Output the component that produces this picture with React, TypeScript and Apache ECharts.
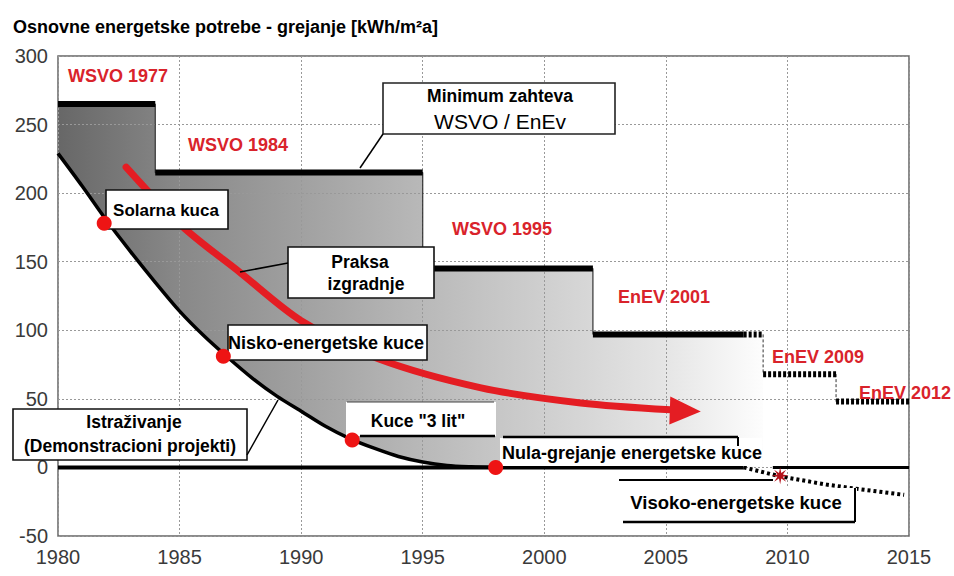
import React, { useEffect, useRef } from "react";
import * as echarts from "echarts";

const FONT = '"Liberation Sans", Arial, sans-serif';

// Axis ranges / ticks
const xRange = [1980, 2015];
const yRange = [-50, 300];

// WSVO / EnEV limits: [from, to, value]
const limitSolid = [
  [1980, 1984, 265],
  [1984, 1995, 215],
  [1995, 2002, 145],
  [2002, 2008.2, 97],
];
const limitDotted = [
  [2008.2, 2009, 97],
  [2009, 2012, 68],
  [2012, 2015, 48],
];
// dashed drops: [year, from, to]
const limitDrops = [
  [2009, 97, 68],
  [2012, 68, 48],
];
// outline of the limit staircase (upper edge of the shaded band)
const limitOutline = [
  [1980, 265], [1984, 265], [1984, 215], [1995, 215], [1995, 145],
  [2002, 145], [2002, 97], [2009, 97],
];
// Research / demonstration projects curve
const researchCurve = [
  [1980, 229], [1981, 205], [1982, 180], [1983, 157], [1984, 135],
  [1985, 114], [1986, 96], [1987, 80], [1988, 65], [1989, 52],
  [1990, 41], [1991, 30], [1992, 21], [1993, 14], [1994, 8],
  [1995, 4], [1996, 1.5], [1997, 0.5], [1998, 0],
];
// Building practice trend (red arrow)
const practiceTrend = [
  [1982.8, 219], [1985.1, 176], [1987.5, 142], [1990, 107],
  [1993.2, 79], [1997.4, 58], [2001.5, 47], [2005.2, 42],
];
const practiceArrowHead = [[2005.8, 41.2]];
// Milestones (red dots)
const milestones = [[1981.9, 178], [1986.8, 81], [1992.1, 20], [1998, 0]];
// Zero line and plus-energy houses
const zeroLineLeft = [[1980, 0], [2008.2, 0]];
const zeroLineRight = [[2009.4, 0], [2015, 0]];
const plusEnergy = [[2008.2, 0], [2009.7, -6.5], [2011.6, -12.5], [2012.8, -15.5], [2014.8, -20]];
const plusMarker = [[2009.7, -6]];

const regulationLabels = ["WSVO 1977", "WSVO 1984", "WSVO 1995", "EnEV 2001", "EnEV 2009", "EnEV 2012"];

const STAR =
  "path://M20 10 L13.23 11.34 L17.07 17.07 L11.34 13.23 L10 20 L8.66 13.23 L2.93 17.07 L6.77 11.34 L0 10 L6.77 8.66 L2.93 2.93 L8.66 6.77 L10 0 L11.34 6.77 L17.07 2.93 L13.23 8.66 Z";

const RED = "#e41d23";
const LABEL_RED = "#d9232b";

function txt(text: string, x: number, y: number, font: string, align = "center", fill = "#000") {
  return {
    type: "text",
    z: 12,
    silent: true,
    style: { text, x, y, font, align, verticalAlign: "middle", fill },
  };
}
function rect(x: number, y: number, w: number, h: number, stroke: string | null) {
  return {
    type: "rect",
    z: 10,
    silent: true,
    shape: { x, y, width: w, height: h },
    style: stroke ? { fill: "#fff", stroke, lineWidth: 1.6 } : { fill: "#fff" },
  };
}
function seg(x1: number, y1: number, x2: number, y2: number, w = 1.5, color = "#000") {
  return {
    type: "line",
    z: 11,
    silent: true,
    shape: { x1, y1, x2, y2 },
    style: { stroke: color, lineWidth: w },
  };
}

export default function App() {
  const ref = useRef<HTMLDivElement>(null);

  useEffect(() => {
    if (!ref.current) return;
    const chart = echarts.init(ref.current, undefined, { renderer: "svg" });

    const B = `bold 17.5px ${FONT}`;
    const B18 = `bold 18px ${FONT}`;
    const RB = `bold 18px ${FONT}`;

    const series: any[] = [];

    // shaded band
    series.push({
      type: "custom",
      z: 1,
      silent: true,
      clip: true,
      data: [[1980, 0]],
      encode: { x: 0, y: 1 },
      renderItem: (_params: any, api: any) => {
        const pts = [...limitOutline, [2009, 0], ...researchCurve.slice().reverse()].map((p) =>
          api.coord(p)
        );
        return {
          type: "polygon",
          shape: { points: pts },
          style: {
            fill: new echarts.graphic.LinearGradient(0, 0, 1, 0, [
              { offset: 0, color: "#676767" },
              { offset: 0.17, color: "#888888" },
              { offset: 0.34, color: "#a0a0a0" },
              { offset: 0.52, color: "#b9b9b9" },
              { offset: 0.69, color: "#cfcfcf" },
              { offset: 0.86, color: "#e5e5e5" },
              { offset: 1, color: "#fdfdfd" },
            ]),
          },
        };
      },
    });

    // thin outline of staircase (vertical edges)
    series.push({
      type: "line",
      data: limitOutline.slice(0, -1),
      symbol: "none",
      lineStyle: { color: "#333", width: 1.2 },
      z: 3,
    });

    limitSolid.forEach(([a, b, v]) =>
      series.push({
        type: "line",
        data: [[a, v], [b, v]],
        symbol: "none",
        lineStyle: { color: "#000", width: 6 },
        z: 4,
      })
    );
    limitDotted.forEach(([a, b, v]) =>
      series.push({
        type: "line",
        data: [[a, v], [b, v]],
        symbol: "none",
        lineStyle: { color: "#000", width: 6, type: [3, 2] },
        z: 4,
      })
    );
    limitDrops.forEach(([x, a, b]) =>
      series.push({
        type: "line",
        data: [[x, a], [x, b]],
        symbol: "none",
        lineStyle: { color: "#333", width: 1, type: [3, 2] },
        z: 3,
      })
    );

    // zero line
    series.push({
      type: "line",
      data: zeroLineLeft,
      symbol: "none",
      lineStyle: { color: "#000", width: 4 },
      z: 4,
    });
    series.push({
      type: "line",
      data: zeroLineRight,
      symbol: "none",
      lineStyle: { color: "#000", width: 3 },
      z: 4,
    });
    series.push({
      type: "line",
      data: plusEnergy,
      symbol: "none",
      lineStyle: { color: "#000", width: 4, type: [3, 3] },
      z: 4,
    });

    // research curve
    series.push({
      type: "line",
      data: researchCurve,
      symbol: "none",
      smooth: 0.3,
      lineStyle: { color: "#000", width: 3.5 },
      z: 4,
    });

    // practice trend
    series.push({
      type: "line",
      data: practiceTrend,
      symbol: "none",
      smooth: 0.3,
      lineStyle: { color: RED, width: 7, cap: "round" },
      z: 5,
    });
    series.push({
      type: "scatter",
      data: practiceArrowHead,
      symbol: "triangle",
      symbolSize: [28, 31],
      symbolRotate: -92,
      itemStyle: { color: RED, opacity: 1 },
      z: 5,
    });

    // milestones
    series.push({
      type: "scatter",
      data: milestones,
      symbolSize: 15,
      itemStyle: { color: "#ee1414", opacity: 1 },
      z: 20,
    });
    series.push({
      type: "scatter",
      data: plusMarker,
      symbol: STAR,
      symbolSize: 17,
      itemStyle: { color: "#b5121b", opacity: 1 },
      z: 20,
    });

    const graphics: any[] = [
      txt("Osnovne energetske potrebe - grejanje [kWh/m²a]", 13, 27, `bold 18px ${FONT}`, "left"),
      // regulation labels
      txt(regulationLabels[0], 68, 76, RB, "left", LABEL_RED),
      txt(regulationLabels[1], 188, 145, RB, "left", LABEL_RED),
      txt(regulationLabels[2], 452, 229, RB, "left", LABEL_RED),
      txt(regulationLabels[3], 618, 297, RB, "left", LABEL_RED),
      txt(regulationLabels[4], 772, 357, RB, "left", LABEL_RED),
      txt(regulationLabels[5], 859, 393, RB, "left", LABEL_RED),
      // Minimum box
      seg(383, 134, 360, 168),
      rect(383, 83, 232, 51, "#222"),
      txt("Minimum zahteva", 500, 96, B),
      txt("WSVO / EnEv", 500, 121, `21px ${FONT}`),
      // Solarna
      rect(106, 190, 122, 39, "#111"),
      txt("Solarna kuca", 166, 210, `bold 17px ${FONT}`),
      // Praksa
      seg(288, 263, 240, 272),
      rect(288, 247, 146, 51, "#111"),
      txt("Praksa", 360, 262, B),
      txt("izgradnje", 366, 284, B),
      // Nisko
      rect(228, 325, 199, 35, "#111"),
      txt("Nisko-energetske kuce", 326, 343, B18),
      // Istrazivanje
      seg(247, 455, 278, 400),
      rect(13, 409, 234, 51, "#111"),
      txt("Istraživanje", 134, 422, B),
      txt("(Demonstracioni projekti)", 130, 446, B),
      // Kuce 3 lit
      rect(346, 402, 150, 34, null),
      seg(347, 402, 494, 402, 1, "#444"),
      seg(360, 436, 495, 436, 2.5),
      txt('Kuce "3 lit"', 418, 421, B),
      // Nula
      rect(500, 438, 262, 28, null),
      seg(503, 437, 738, 437, 2.5),
      seg(738, 437, 738, 446, 2),
      txt("Nula-grejanje energetske kuce", 502, 453, B18, "left"),
      // Visoko
      rect(618, 481, 160, 41, null),
      rect(778, 488, 79, 34, null),
      seg(619, 480, 773, 480, 2),
      seg(623, 522, 855, 522, 2.5),
      seg(855, 488, 855, 522, 2),
      txt("Visoko-energetske kuce", 736, 502, `bold 18.5px ${FONT}`),
    ];

    chart.setOption({
      animation: false,
      backgroundColor: "#fff",
      grid: {
        left: 58,
        right: 45,
        top: 56,
        bottom: 40,
        show: true,
        borderColor: "#666",
        borderWidth: 1.5,
      },
      xAxis: {
        type: "value",
        min: xRange[0],
        max: xRange[1],
        interval: 5,
        z: 1.5,
        axisLine: { show: false },
        axisTick: { show: false },
        axisLabel: {
          fontSize: 20,
          color: "#3a3a3a",
          fontFamily: FONT,
          margin: 11,
          formatter: (v: number) => String(v),
        },
        splitLine: { show: true, lineStyle: { color: "#999", width: 1, type: [2, 2] } },
      },
      yAxis: {
        type: "value",
        min: yRange[0],
        max: yRange[1],
        interval: 50,
        z: 1.5,
        axisLine: { show: false },
        axisTick: { show: false },
        axisLabel: { fontSize: 20, color: "#3a3a3a", fontFamily: FONT, margin: 10 },
        splitLine: { show: true, lineStyle: { color: "#999", width: 1, type: [2, 2] } },
      },
      series,
      graphic: graphics,
    });

    return () => chart.dispose();
  }, []);

  return <div ref={ref} style={{ width: 954, height: 576, position: "absolute", left: 0, top: 0 }} />;
}
